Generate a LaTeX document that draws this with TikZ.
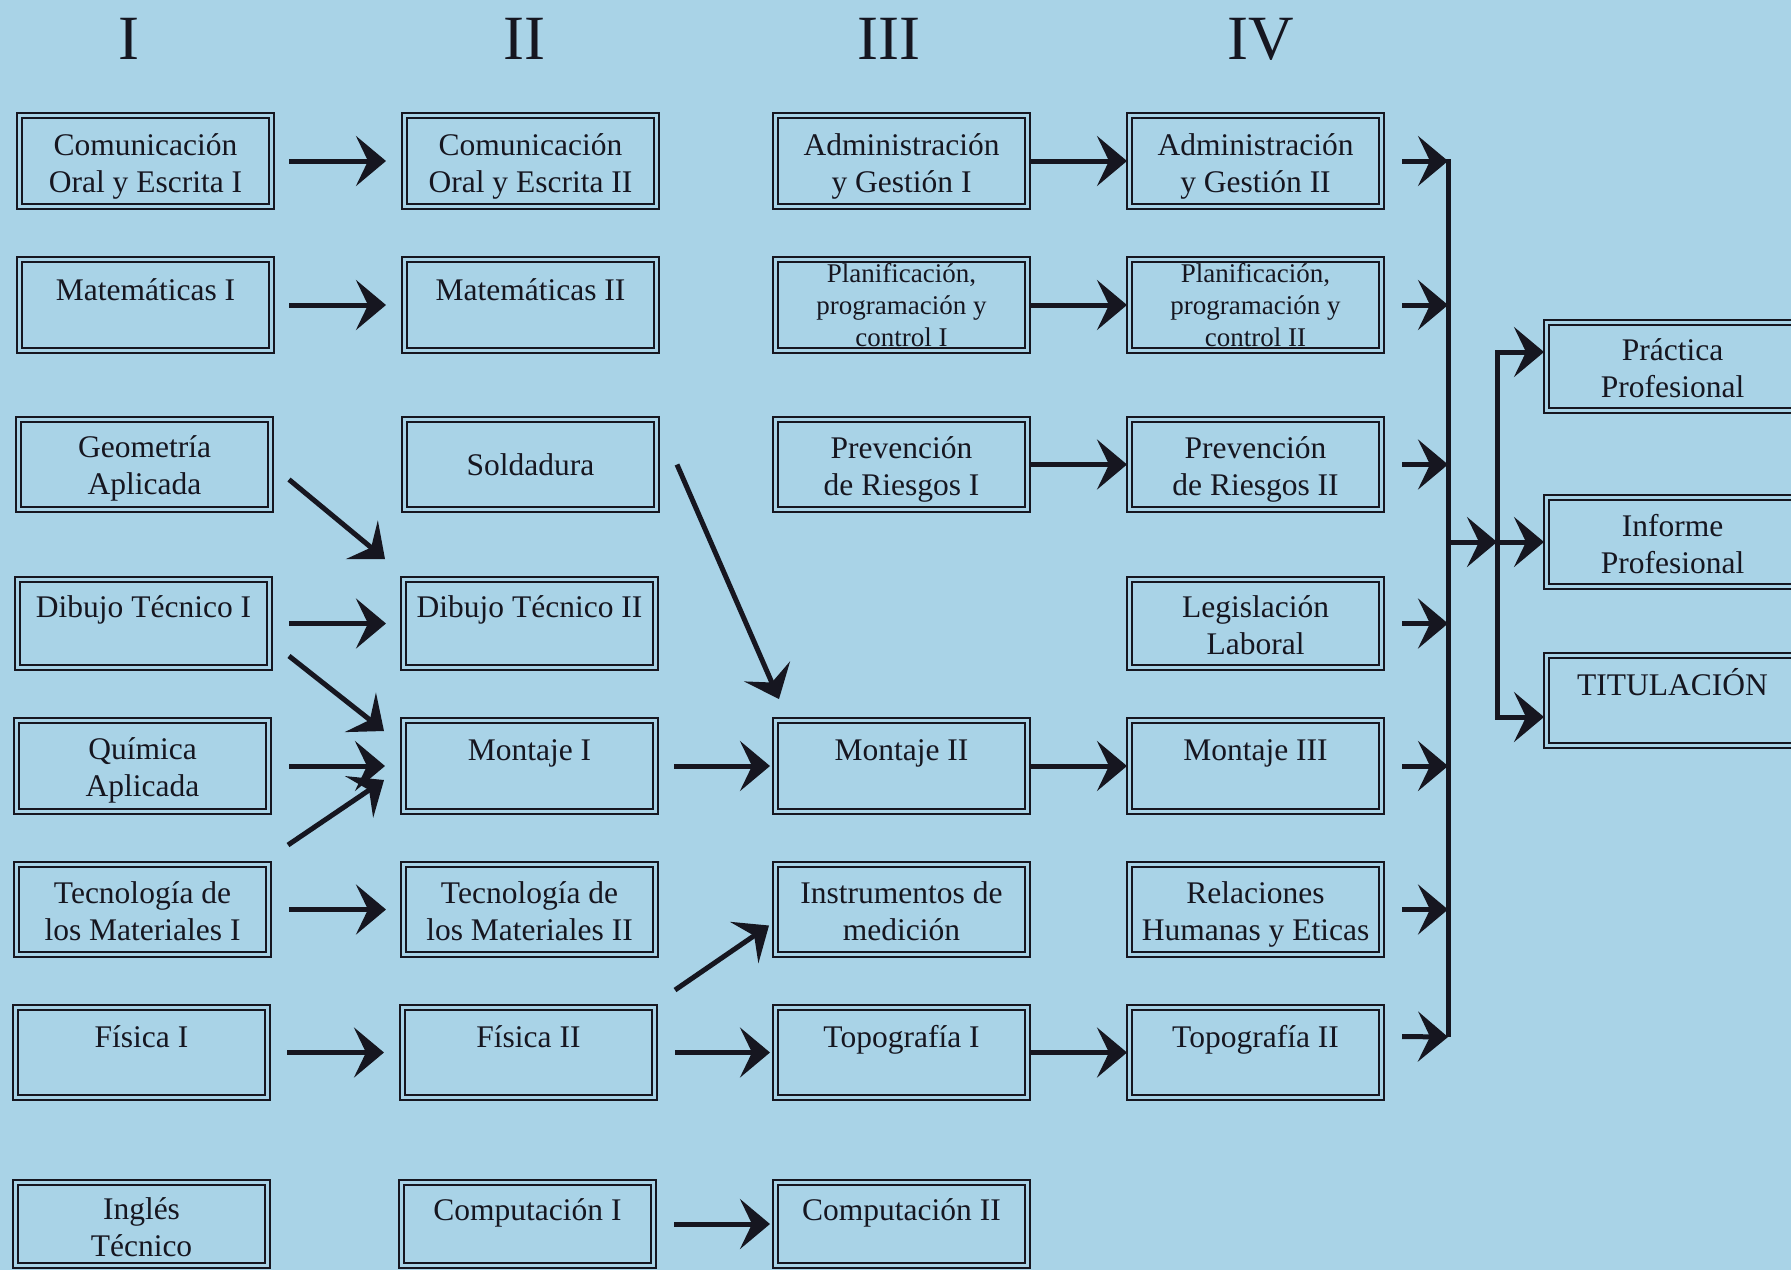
\documentclass[tikz,border=0pt]{standalone}
\usepackage{fontspec}
\setmainfont{Liberation Serif}
\usetikzlibrary{arrows.meta,calc}
\definecolor{bg}{RGB}{169,211,231}
\definecolor{ink}{RGB}{22,22,32}
\newcommand\twol[2]{\begin{tabular}[t]{@{}c@{}}#1\\#2\end{tabular}}
\newcommand\threel[3]{\begin{tabular}[t]{@{}c@{}}#1\\#2\\#3\end{tabular}}
\tikzset{
  box/.style={draw=ink, line width=1.4pt, fill=bg, rectangle, anchor=north west,
    inner sep=0pt, outer sep=0pt, minimum width=128.5pt, minimum height={#1*0.5pt}},
  box/.default=95,
  innerline/.style={draw=ink, line width=0.8pt},
  txt/.style={anchor=base, inner sep=0pt, outer sep=0pt, text=ink,
    font=\fontsize{15.75pt}{18.5pt}\selectfont},
  smalltxt/.style={txt, font=\fontsize{13.5pt}{16pt}\selectfont},
  num/.style={anchor=base, inner sep=0pt, text=ink, font=\fontsize{31.5pt}{36pt}\selectfont},
  arr/.style={draw=ink, line width=2.5pt, line join=miter,
    -{Stealth[length=15pt,width=25pt,inset=6pt]}},
  barline/.style={draw=ink, line width=2.5pt},
}
\begin{document}
\begin{tikzpicture}[x=0.5pt,y=-0.5pt]
\path[use as bounding box, fill=bg] (0,0) rectangle (1791,1270);
\clip (0,0) rectangle (1791,1270);

% column headings
\node[num] (h1) at (129,59) {I};
\node[num] (h2) at (524,59) {II};
\node[num] (h3) at (889,59) {III};
\node[num] (h4) at (1261,59) {IV};

% column I
\node[box=96] (c1) at (17,113) {};
\node[box=96] (m1) at (17,257) {};
\node[box=95] (g1) at (16,417) {};
\node[box=93] (d1) at (15,577) {};
\node[box=96] (q1) at (14,718) {};
\node[box=95] (t1) at (14,862) {};
\node[box=95] (f1) at (13,1005) {};
\node[box=88] (i1) at (13,1180) {};
% column II
\node[box=96] (c2) at (402,113) {};
\node[box=96] (m2) at (402,257) {};
\node[box=95] (s2) at (402,417) {};
\node[box=93] (d2) at (401,577) {};
\node[box=96] (mo1) at (401,718) {};
\node[box=95] (t2) at (401,862) {};
\node[box=95] (f2) at (400,1005) {};
\node[box=88] (co1) at (399,1180) {};
% column III
\node[box=96] (a1) at (773,113) {};
\node[box=96] (p1) at (773,257) {};
\node[box=95] (r1) at (773,417) {};
\node[box=96] (mo2) at (773,718) {};
\node[box=95] (in) at (773,862) {};
\node[box=95] (to1) at (773,1005) {};
\node[box=88] (co2) at (773,1180) {};
% column IV
\node[box=96] (a2) at (1127,113) {};
\node[box=96] (p2) at (1127,257) {};
\node[box=95] (r2) at (1127,417) {};
\node[box=93] (le) at (1127,577) {};
\node[box=96] (mo3) at (1127,718) {};
\node[box=95] (rh) at (1127,862) {};
\node[box=95] (to2) at (1127,1005) {};
% column V
\node[box=93] (pr) at (1544,320) {};
\node[box=94] (ip) at (1544,495) {};
\node[box=95] (ti) at (1544,653) {};

\foreach \n in {c1,m1,g1,d1,q1,t1,f1,i1,c2,m2,s2,d2,mo1,t2,f2,co1,a1,p1,r1,mo2,in,to1,co2,a2,p2,r2,le,mo3,rh,to2,pr,ip,ti}
  \draw[innerline] ([shift={(5,5)}]\n.north west) rectangle ([shift={(-5,-5)}]\n.south east);

% texts
\node[txt] (c1t) at ([shift={(0,42)}]c1.north) {\twol{Comunicación}{Oral y Escrita I}};
\node[txt] (m1t) at ([shift={(0,43)}]m1.north) {Matemáticas I};
\node[txt] (g1t) at ([shift={(0,40)}]g1.north) {\twol{Geometría}{Aplicada}};
\node[txt] (d1t) at ([shift={(0,40)}]d1.north) {Dibujo Técnico I};
\node[txt] (q1t) at ([shift={(0,41)}]q1.north) {\twol{Química}{Aplicada}};
\node[txt] (t1t) at ([shift={(0,41)}]t1.north) {\twol{Tecnología de}{los Materiales I}};
\node[txt] (f1t) at ([shift={(0,42)}]f1.north) {Física I};
\node[txt] (i1t) at ([shift={(0,39)}]i1.north) {\twol{Inglés}{Técnico}};

\node[txt] (c2t) at ([shift={(0,42)}]c2.north) {\twol{Comunicación}{Oral y Escrita II}};
\node[txt] (m2t) at ([shift={(0,43)}]m2.north) {Matemáticas II};
\node[txt] (s2t) at ([shift={(0,58)}]s2.north) {Soldadura};
\node[txt] (d2t) at ([shift={(0,40)}]d2.north) {Dibujo Técnico II};
\node[txt] (mo1t) at ([shift={(0,42)}]mo1.north) {Montaje I};
\node[txt] (t2t) at ([shift={(0,41)}]t2.north) {\twol{Tecnología de}{los Materiales II}};
\node[txt] (f2t) at ([shift={(0,42)}]f2.north) {Física II};
\node[txt] (co1t) at ([shift={(0,40)}]co1.north) {Computación I};

\node[txt] (a1t) at ([shift={(0,42)}]a1.north) {\twol{Administración}{y Gestión I}};
\node[smalltxt] (p1t) at ([shift={(0,25)}]p1.north) {\threel{Planificación,}{programación y}{control I}};
\node[txt] (r1t) at ([shift={(0,41)}]r1.north) {\twol{Prevención}{de Riesgos I}};
\node[txt] (mo2t) at ([shift={(0,42)}]mo2.north) {Montaje II};
\node[txt] (int) at ([shift={(0,41)}]in.north) {\twol{Instrumentos de}{medición}};
\node[txt] (to1t) at ([shift={(0,42)}]to1.north) {Topografía I};
\node[txt] (co2t) at ([shift={(0,40)}]co2.north) {Computación II};

\node[txt] (a2t) at ([shift={(0,42)}]a2.north) {\twol{Administración}{y Gestión II}};
\node[smalltxt] (p2t) at ([shift={(0,25)}]p2.north) {\threel{Planificación,}{programación y}{control II}};
\node[txt] (r2t) at ([shift={(0,41)}]r2.north) {\twol{Prevención}{de Riesgos II}};
\node[txt] (let) at ([shift={(0,40)}]le.north) {\twol{Legislación}{Laboral}};
\node[txt] (mo3t) at ([shift={(0,42)}]mo3.north) {Montaje III};
\node[txt] (rht) at ([shift={(0,41)}]rh.north) {\twol{Relaciones}{Humanas y Eticas}};
\node[txt] (to2t) at ([shift={(0,42)}]to2.north) {Topografía II};

\node[txt] (prt) at ([shift={(0,40)}]pr.north) {\twol{Práctica}{Profesional}};
\node[txt] (ipt) at ([shift={(0,41)}]ip.north) {\twol{Informe}{Profesional}};
\node[txt] (tit) at ([shift={(0,42)}]ti.north) {TITULACIÓN};

% connectors I -> II
\draw[arr] ([shift={(15,0)}]c1.east) -- ([shift={(-16,0)}]c2.west);
\draw[arr] ([shift={(15,0)}]m1.east) -- ([shift={(-16,0)}]m2.west);
\draw[arr] ([shift={(16,15)}]g1.east) -- ([shift={(-16,-18)}]d2.north west);
\draw[arr] ([shift={(17,0)}]d1.east) -- ([shift={(-15,0)}]d2.west);
\draw[arr] ([shift={(17,-14)}]d1.south east) -- ([shift={(-17,13)}]mo1.north west);
\draw[arr] ([shift={(18,0)}]q1.east) -- ([shift={(-16,0)}]mo1.west);
\draw[arr] ([shift={(17,-17)}]t1.north east) -- ([shift={(-17,14)}]mo1.west);
\draw[arr] ([shift={(18,0)}]t1.east) -- ([shift={(-15,0)}]t2.west);
\draw[arr] ([shift={(17,0)}]f1.east) -- ([shift={(-16,0)}]f2.west);

% connectors II -> III
\draw[arr] ([shift={(18,0)}]s2.east) -- ([shift={(6,-19)}]mo2.north west);
\draw[arr] ([shift={(16,0)}]mo1.east) -- ([shift={(-3,0)}]mo2.west);
\draw[arr] ([shift={(18,-15)}]f2.north east) -- ([shift={(-4,16)}]in.west);
\draw[arr] ([shift={(18,0)}]f2.east) -- ([shift={(-3,0)}]to1.west);
\draw[arr] ([shift={(18,0)}]co1.east) -- ([shift={(-3,0)}]co2.west);

% connectors III -> IV
\draw[arr] (a1.east) -- (a2.west);
\draw[arr] (p1.east) -- (p2.west);
\draw[arr] (r1.east) -- (r2.west);
\draw[arr] (mo2.east) -- (mo3.west);
\draw[arr] (to1.east) -- (to2.west);

% IV -> collecting bar
\coordinate (bx) at (1448,0);
\coordinate (btop) at (1448,159);
\coordinate (bbot) at (1448,1037);
\draw[barline] (btop) -- (bbot);
\foreach \n in {a2,p2,r2,le,mo3,rh}
  \draw[arr] ([shift={(18,0)}]\n.east) -- (\n.east -| bx);
\draw[arr] ([shift={(18,-16)}]to2.east) -- (bbot);

% bar -> final boxes
\coordinate (jx) at (1497,0);
\coordinate (jtop) at (1497,352);
\coordinate (jbot) at (1497,717);
\draw[arr] (ip.west -| bx) -- (ip.west -| jx);
\draw[arr] (jbot) -- (jtop) -- (jtop -| pr.west);
\draw[arr] (jtop) -- (jbot) -- (jbot -| ti.west);
\draw[arr] (ip.west -| jx) -- (ip.west);
\end{tikzpicture}
\end{document}
